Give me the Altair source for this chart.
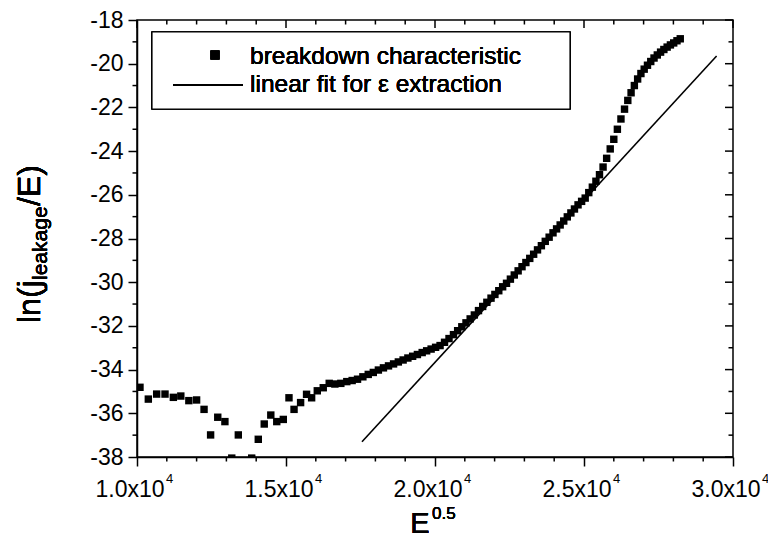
import altair as alt
import pandas as pd

W, H = 596, 437
FONT = "Liberation Sans"

# ---- data ----
x_noisy = [10100, 10380, 10660, 10940, 11220, 11470, 11740, 12000, 12250, 12470,
           12710, 12950, 13180, 13400, 13850, 14070, 14270, 14490, 14690, 14910,
           15100, 15270, 15490, 15690, 15860, 16050, 16250, 16450, 16640, 16840]
y_noisy = [-34.81, -35.35, -35.12, -35.12, -35.27, -35.21, -35.42, -35.39, -35.82, -36.99,
           -36.18, -36.38, -38.05, -36.99, -38.05, -37.19, -36.49, -36.08, -36.38, -36.28,
           -35.29, -35.82, -35.51, -35.13, -35.29, -34.97, -34.83, -34.63, -34.66, -34.63]

x_curve = [17040, 17220, 17400, 17580, 17760, 17930, 18100, 18270, 18440, 18610,
           18770, 18930, 19090, 19250, 19410, 19570, 19720, 19870, 20020, 20170,
           20320, 20470, 20620, 20760, 20900, 21040, 21180, 21320, 21460, 21600,
           21740, 21880, 22010, 22140, 22270, 22400, 22530, 22660, 22790, 22920,
           23050, 23180, 23310, 23440, 23570, 23700, 23830, 23960, 24080, 24200,
           24320, 24440, 24560, 24680, 24800, 24920, 25040, 25160, 25280, 25400,
           25520, 25640, 25760, 25880, 26000, 26120, 26240, 26360, 26470, 26580,
           26690, 26800, 26910, 27020, 27130, 27240, 27350, 27460, 27570, 27680,
           27790, 27900, 28010, 28120, 28230]
y_curve = [-34.55, -34.50, -34.44, -34.33, -34.22, -34.13, -34.02, -33.92, -33.83, -33.74,
           -33.65, -33.56, -33.47, -33.39, -33.31, -33.22, -33.14, -33.06, -32.98, -32.90,
           -32.75, -32.58, -32.40, -32.22, -32.04, -31.86, -31.68, -31.50, -31.30, -31.11,
           -30.92, -30.73, -30.56, -30.39, -30.21, -30.05, -29.86, -29.67, -29.48, -29.29,
           -29.10, -28.91, -28.72, -28.52, -28.33, -28.13, -27.94, -27.74, -27.56, -27.38,
           -27.20, -27.01, -26.83, -26.65, -26.46, -26.30, -26.15, -25.90, -25.65, -25.38,
           -25.08, -24.73, -24.33, -23.90, -23.46, -23.00, -22.53, -22.08, -21.68, -21.33,
           -21.00, -20.70, -20.45, -20.25, -20.07, -19.90, -19.74, -19.60, -19.47, -19.35,
           -19.24, -19.14, -19.05, -18.95, -18.86]

fit_x = [17550, 29450]
fit_y = [-37.3, -19.65]

x_major = [10000, 15000, 20000, 25000, 30000]
x_labels = ["1.0x10", "1.5x10", "2.0x10", "2.5x10", "3.0x10"]
x_minor = [11000, 12000, 13000, 14000, 16000, 17000, 18000, 19000,
           21000, 22000, 23000, 24000, 26000, 27000, 28000, 29000]
y_major = [-38, -36, -34, -32, -30, -28, -26, -24, -22, -20, -18]
y_minor = [-37, -35, -33, -31, -29, -27, -25, -23, -21, -19]

legend_labels = ["breakdown characteristic", "linear fit for \u03b5 extraction"]

# ---- tables ----
pts = pd.DataFrame({"x": x_noisy + x_curve, "y": y_noisy + y_curve})
fit = pd.DataFrame({"x": fit_x, "y": fit_y})
xmaj = pd.DataFrame({"x": x_major, "label": x_labels})
xmin = pd.DataFrame({"x": x_minor})
ymaj = pd.DataFrame({"y": y_major})
ymin = pd.DataFrame({"y": y_minor})

xs = alt.Scale(domain=[10000, 30000], nice=False, zero=False)
ys = alt.Scale(domain=[-38, -18], nice=False, zero=False)

x_axis = alt.Axis(values=x_major, labels=False, title=None, grid=False,
                  tickSize=9, tickWidth=1.5, tickColor="black",
                  domainColor="black", domainWidth=1.5)
y_axis = alt.Axis(values=y_major, labelExpr="datum.value + ''", title=None, grid=False,
                  tickSize=9, tickWidth=1.5, tickColor="black",
                  domainColor="black", domainWidth=1.5,
                  labelFont=FONT, labelFontSize=23, labelColor="black", labelPadding=5)


def X(field="x"):
    return alt.X(f"{field}:Q", scale=xs, axis=x_axis)


def Y(field="y"):
    return alt.Y(f"{field}:Q", scale=ys, axis=y_axis)


points = alt.Chart(pts).mark_square(size=55, color="black", opacity=1, clip=True).encode(x=X(), y=Y())
line = alt.Chart(fit).mark_line(color="black", strokeWidth=1.6, clip=True).encode(x=X(), y=Y())

# extra ticks (minor ticks and mirrored ticks on top/right)
bot_minor = alt.Chart(xmin).mark_rule(color="black", strokeWidth=1.5).encode(
    x=X(), y=alt.value(H), y2=alt.value(H + 4.5))
top_major = alt.Chart(xmaj).mark_rule(color="black", strokeWidth=1.5).encode(
    x=X(), y=alt.value(0), y2=alt.value(8))
top_minor = alt.Chart(xmin).mark_rule(color="black", strokeWidth=1.5).encode(
    x=X(), y=alt.value(0), y2=alt.value(4.5))
left_minor = alt.Chart(ymin).mark_rule(color="black", strokeWidth=1.5).encode(
    y=Y(), x=alt.value(0), x2=alt.value(-4.5))
right_major = alt.Chart(ymaj).mark_rule(color="black", strokeWidth=1.5).encode(
    y=Y(), x=alt.value(W), x2=alt.value(W - 8))
right_minor = alt.Chart(ymin).mark_rule(color="black", strokeWidth=1.5).encode(
    y=Y(), x=alt.value(W), x2=alt.value(W - 4.5))

# x tick labels with superscript exponent
xlab = alt.Chart(xmaj).mark_text(font=FONT, fontSize=23, color="black", align="center",
                                 baseline="alphabetic", dx=-7).encode(
    x=X(), y=alt.value(H + 40), text="label:N")
xexp = alt.Chart(xmaj).mark_text(font=FONT, fontSize=13, color="black", align="left",
                                 baseline="alphabetic", dx=29, text="4").encode(
    x=X(), y=alt.value(H + 26))

# axis titles
xt_main = alt.Chart(xmaj).mark_text(font=FONT, fontSize=29, color="black", align="center",
                                    baseline="alphabetic", text="E").encode(
    x=alt.value(283), y=alt.value(513))
xt_sup = alt.Chart(xmaj).mark_text(font=FONT, fontSize=17, color="black", align="left",
                                   baseline="alphabetic", text="0.5").encode(
    x=alt.value(295), y=alt.value(499))

yt1 = alt.Chart(xmaj).mark_text(font=FONT, fontSize=32, color="black", align="left",
                                baseline="alphabetic", angle=270, text="ln(j").encode(
    x=alt.value(-97), y=alt.value(303))
yt2 = alt.Chart(xmaj).mark_text(font=FONT, fontSize=21, color="black", align="left",
                                baseline="alphabetic", angle=270, text="leakage").encode(
    x=alt.value(-90), y=alt.value(260))
yt3 = alt.Chart(xmaj).mark_text(font=FONT, fontSize=32, color="black", align="left",
                                baseline="alphabetic", angle=270, text="/E)").encode(
    x=alt.value(-97), y=alt.value(186))

# legend
leg_box = alt.Chart(xmaj).mark_rect(fill="white", stroke="black", strokeWidth=1.2).encode(
    x=alt.value(15), x2=alt.value(433), y=alt.value(12), y2=alt.value(89))
leg_sq = alt.Chart(xmaj).mark_square(size=81, color="black", opacity=1).encode(
    x=alt.value(78), y=alt.value(35))
leg_ln = alt.Chart(xmaj).mark_rule(color="black", strokeWidth=1.6).encode(
    x=alt.value(36), x2=alt.value(106), y=alt.value(65))
leg_t1 = alt.Chart(xmaj).mark_text(font=FONT, fontSize=24.5, color="black", align="left",
                                   baseline="alphabetic", text=legend_labels[0]).encode(
    x=alt.value(113), y=alt.value(44))
leg_t2 = alt.Chart(xmaj).mark_text(font=FONT, fontSize=24.5, color="black", align="left",
                                   baseline="alphabetic", text=legend_labels[1]).encode(
    x=alt.value(113), y=alt.value(72))

chart = alt.layer(
    points, line, bot_minor, top_major, top_minor, left_minor, right_major, right_minor,
    xlab, xexp, xt_main, xt_sup, yt1, yt2, yt3,
    leg_box, leg_sq, leg_ln, leg_t1, leg_t2,
).properties(
    width=W, height=H,
    autosize=alt.AutoSizeParams(type="none"),
    padding={"left": 129, "top": 12, "right": 35, "bottom": 82},
    background="white",
).configure(font=FONT).configure_view(stroke="black", strokeWidth=1.5)

chart.save("out.html", embed_options={"renderer": "svg", "actions": False})
